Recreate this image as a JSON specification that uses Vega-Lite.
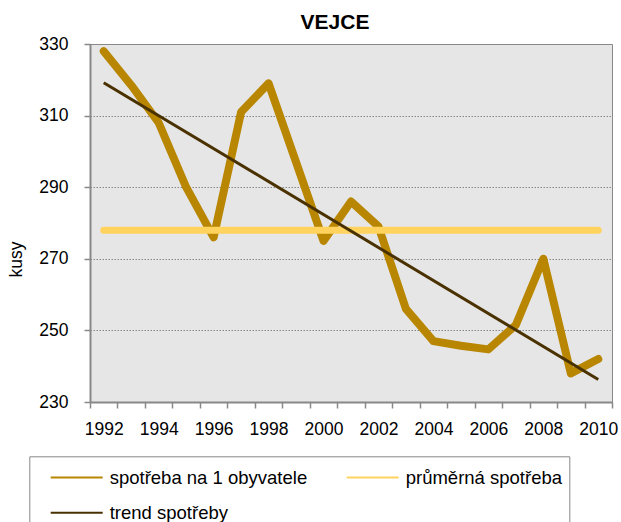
{
  "$schema": "https://vega.github.io/schema/vega-lite/v6.json",
  "width": 522,
  "height": 358,
  "autosize": {"type": "none"},
  "padding": {"left": 90, "top": 44, "right": 9, "bottom": 120},
  "background": "white",
  "title": {
    "text": "VEJCE",
    "font": "Liberation Sans",
    "fontSize": 21,
    "fontWeight": "bold",
    "color": "black",
    "anchor": "middle",
    "dx": -16,
    "dy": 30,
    "baseline": "bottom",
    "offset": 11
  },
  "config": {
    "view": {"fill": "#E6E6E6", "stroke": "#888888", "strokeWidth": 1},
    "axis": {"labelFont": "Liberation Sans", "titleFont": "Liberation Sans", "labelColor": "black", "titleColor": "black"}
  },
  "data": {
    "values": [
      {"year": 1992, "series": "spotřeba na 1 obyvatele", "value": 328},
      {"year": 1993, "series": "spotřeba na 1 obyvatele", "value": 318.5},
      {"year": 1994, "series": "spotřeba na 1 obyvatele", "value": 308},
      {"year": 1995, "series": "spotřeba na 1 obyvatele", "value": 290},
      {"year": 1996, "series": "spotřeba na 1 obyvatele", "value": 276},
      {"year": 1997, "series": "spotřeba na 1 obyvatele", "value": 311},
      {"year": 1998, "series": "spotřeba na 1 obyvatele", "value": 319},
      {"year": 1999, "series": "spotřeba na 1 obyvatele", "value": 297},
      {"year": 2000, "series": "spotřeba na 1 obyvatele", "value": 275},
      {"year": 2001, "series": "spotřeba na 1 obyvatele", "value": 286},
      {"year": 2002, "series": "spotřeba na 1 obyvatele", "value": 279},
      {"year": 2003, "series": "spotřeba na 1 obyvatele", "value": 256},
      {"year": 2004, "series": "spotřeba na 1 obyvatele", "value": 247},
      {"year": 2005, "series": "spotřeba na 1 obyvatele", "value": 245.7},
      {"year": 2006, "series": "spotřeba na 1 obyvatele", "value": 244.7},
      {"year": 2007, "series": "spotřeba na 1 obyvatele", "value": 251.5},
      {"year": 2008, "series": "spotřeba na 1 obyvatele", "value": 270},
      {"year": 2009, "series": "spotřeba na 1 obyvatele", "value": 238},
      {"year": 2010, "series": "spotřeba na 1 obyvatele", "value": 242},
      {"year": 1992, "series": "průměrná spotřeba", "value": 278},
      {"year": 2010, "series": "průměrná spotřeba", "value": 278},
      {"year": 1992, "series": "trend spotřeby", "value": 319.2},
      {"year": 2010, "series": "trend spotřeby", "value": 236.3}
    ]
  },
  "encoding": {
    "x": {
      "field": "year",
      "type": "ordinal",
      "scale": {"type": "band", "paddingInner": 0, "paddingOuter": 0},
      "axis": {
        "title": null,
        "labelAngle": 0,
        "labelExpr": "datum.value % 2 == 0 ? datum.label : ''",
        "tickBand": "extent",
        "domainColor": "#888888",
        "domainWidth": 2,
        "tickColor": "#888888",
        "tickWidth": 1.5,
        "tickSize": 6,
        "labelFontSize": 17.5,
        "labelPadding": 12,
        "grid": false
      }
    },
    "y": {
      "field": "value",
      "type": "quantitative",
      "scale": {"domain": [230, 330], "nice": false, "zero": false},
      "axis": {
        "title": "kusy",
        "values": [230, 250, 270, 290, 310, 330],
        "grid": true,
        "gridColor": "#888888",
        "gridDash": [1.5, 1.5],
        "gridWidth": 1,
        "domainColor": "#888888",
        "domainWidth": 2,
        "tickColor": "#888888",
        "tickWidth": 1.5,
        "tickSize": 6,
        "labelFontSize": 17.5,
        "labelPadding": 16,
        "titleFontSize": 17.5,
        "titleFontWeight": "normal",
        "titleX": -65,
        "titleY": 215
      }
    },
    "color": {
      "field": "series",
      "type": "nominal",
      "scale": {
        "domain": ["spotřeba na 1 obyvatele", "trend spotřeby", "průměrná spotřeba"],
        "range": ["#B88600", "#4A3100", "#FFD35E"]
      },
      "legend": {
        "title": null,
        "orient": "none",
        "legendX": -60.7,
        "legendY": 412.3,
        "columns": 2,
        "gridAlign": "all",
        "columnPadding": 25,
        "rowPadding": 11.4,
        "padding": 7,
        "strokeColor": "#888888",
        "fillColor": "white",
        "symbolType": "M-2,0H2",
        "symbolSize": 676,
        "symbolStrokeWidth": 2,
        "symbolOffset": 26.4,
        "labelOffset": 19,
        "labelFont": "Liberation Sans",
        "labelFontSize": 18.5,
        "labelColor": "black",
        "labelLimit": 400
      }
    }
  },
  "layer": [
    {
      "transform": [{"filter": "datum.series == 'spotřeba na 1 obyvatele'"}],
      "mark": {"type": "line", "strokeWidth": 8, "strokeCap": "round", "strokeJoin": "round"}
    },
    {
      "transform": [{"filter": "datum.series == 'průměrná spotřeba'"}],
      "mark": {"type": "line", "strokeWidth": 7, "strokeCap": "round"}
    },
    {
      "transform": [{"filter": "datum.series == 'trend spotřeby'"}],
      "mark": {"type": "line", "strokeWidth": 3, "strokeCap": "butt"}
    }
  ]
}
